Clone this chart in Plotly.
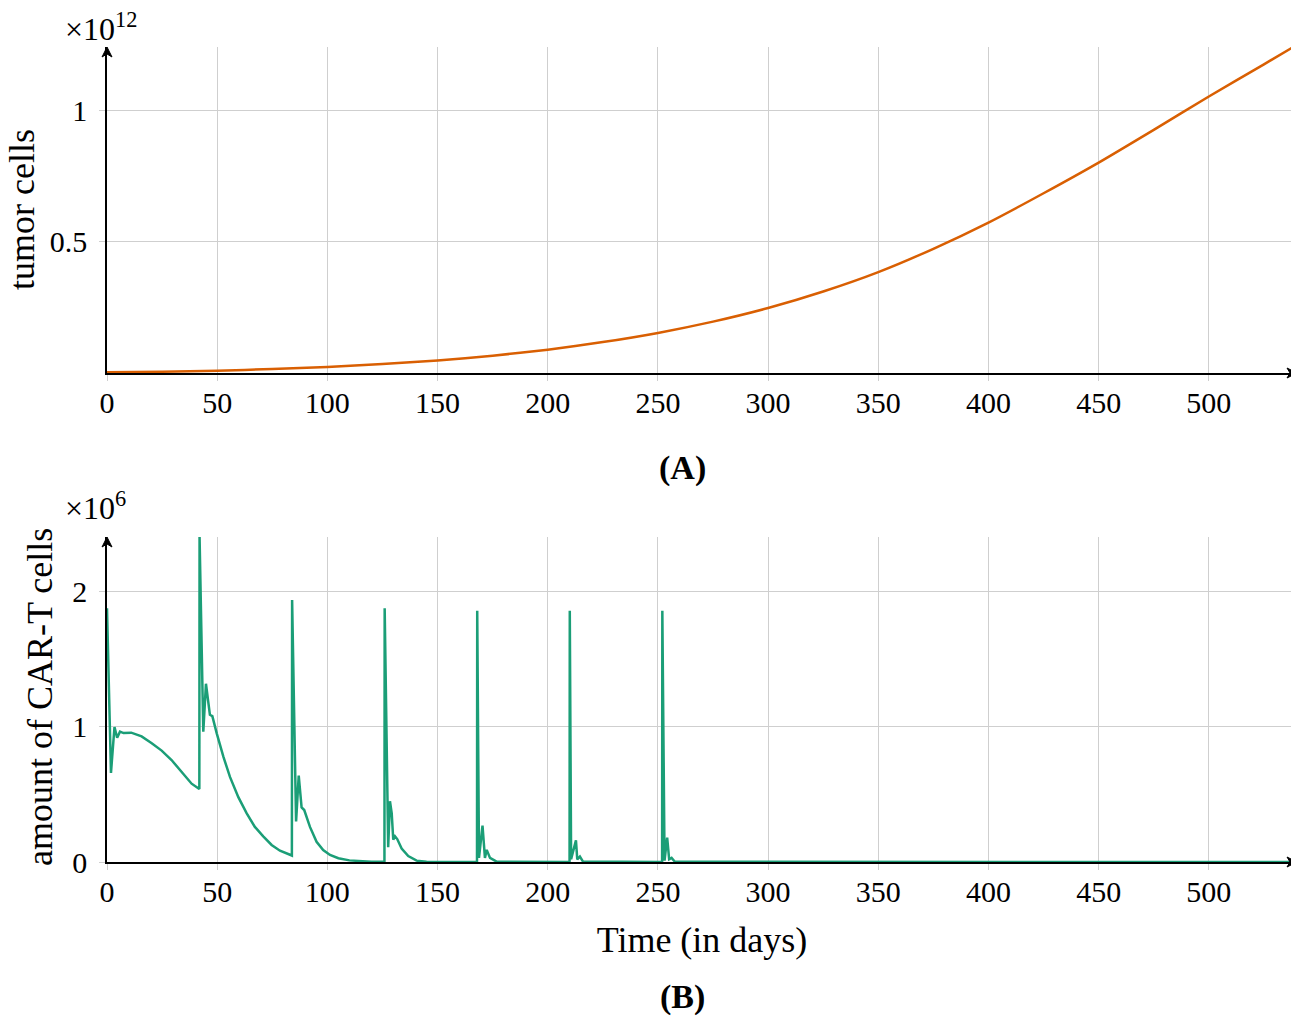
"""Tumor cells and CAR-T cells over time, two stacked panels (A) and (B)."""

import plotly.graph_objects as go

# ---------------------------------------------------------------------
# Data
# ---------------------------------------------------------------------
# (A) tumor cells, in units of 1e12
tumor_days = [0, 25, 50, 75, 100, 125, 150, 175, 200, 225, 250, 275, 300,
              325, 350, 375, 400, 425, 450, 475, 500, 525, 540]
tumor_cells = [0.003, 0.005, 0.009, 0.015, 0.023, 0.034, 0.048, 0.066, 0.089,
               0.118, 0.153, 0.196, 0.248, 0.311, 0.385, 0.474, 0.574, 0.686,
               0.803, 0.928, 1.055, 1.178, 1.252]

# (B) CAR-T cells, in units of 1e6 (doses every 42 days)
cart_days = [
    0, 1.8, 3.4, 4.6, 5.9, 7.5, 11, 15.7, 20.3, 24.8, 29.3, 33.9, 38.4, 41.9,
    42.0, 43.7, 44.9, 46.7, 47.8, 49.8, 52.8, 55.8, 59.6, 63.4, 67.1, 70.9,
    74.7, 78.5, 83.0, 83.9,
    84.0, 85.8, 87.0, 88.3, 89.5, 92.1, 95.1, 98.1, 101.2, 105, 110, 115, 120,
    125.9,
    126.0, 127.6, 128.4, 129.2, 129.9, 130.7, 131.7, 133.7, 136.7, 140.5, 145,
    167.9,
    168.0, 168.8, 170.4, 171.5, 172.3, 173.8, 176.8, 209.9,
    210.0, 210.6, 212.8, 213.4, 214.6, 216.0, 251.9,
    252.0, 253.0, 254.2, 255.1, 256.2, 257.7, 540,
]
cart_cells = [
    1.88, 0.66, 1.0, 0.92, 0.965, 0.955, 0.958, 0.93, 0.88, 0.825, 0.755, 0.67,
    0.58, 0.54,
    2.41, 0.965, 1.32, 1.09, 1.08, 0.953, 0.78, 0.63, 0.48, 0.36, 0.26, 0.19,
    0.126, 0.084, 0.052, 0.048,
    1.94, 0.30, 0.64, 0.405, 0.385, 0.26, 0.15, 0.089, 0.052, 0.028, 0.012,
    0.005, 0.002, 0.001,
    1.88, 0.11, 0.45, 0.36, 0.165, 0.19, 0.17, 0.10, 0.044, 0.01, 0.002, 0.0,
    1.86, 0.03, 0.27, 0.03, 0.09, 0.03, 0.003, 0.0,
    1.86, 0.02, 0.16, 0.02, 0.04, 0.003, 0.0,
    1.86, 0.01, 0.18, 0.02, 0.03, 0.002, 0.0,
]

x_ticks = [0, 50, 100, 150, 200, 250, 300, 350, 400, 450, 500]
tumor_ticks = [0.5, 1]
cart_ticks = [0, 1, 2]

X_MAX = 540
TUMOR_MAX = 1.244
CART_MAX = 2.407

# ---------------------------------------------------------------------
# Style
# ---------------------------------------------------------------------
OFF = 8                      # page body margin the browser adds
W, H = 1299 - OFF, 1023 - OFF
FONT = "Liberation Serif, DejaVu Serif, serif"
FS = 30
TFS = 36
GRID = "#cfcfcf"
TUMOR_COLOR = "#d95f02"
CART_COLOR = "#1b9e77"
LEFT = 107 - OFF
PLOT_W = W - LEFT - 2


def py(px):
    """screen row (reference pixels) -> paper fraction (margins t=b=0)."""
    return 1 - (px - OFF) / H


def px_(x):
    """screen column (reference pixels) -> paper fraction of plot width."""
    return (x - 107) / PLOT_W


fig = go.Figure()

fig.add_trace(go.Scatter(
    x=tumor_days, y=tumor_cells, mode="lines",
    line=dict(color=TUMOR_COLOR, width=2.5, shape="spline", smoothing=0.6),
    xaxis="x", yaxis="y", showlegend=False,
))
fig.add_trace(go.Scatter(
    x=cart_days, y=cart_cells, mode="lines",
    line=dict(color=CART_COLOR, width=2.5),
    xaxis="x2", yaxis="y2", showlegend=False,
))

axis_common = dict(
    showline=True, linecolor="black", linewidth=1.5,
    showgrid=True, gridcolor=GRID, gridwidth=1,
    zeroline=False,
    ticks="outside", ticklen=6, tickcolor=GRID, tickwidth=1,
    tickfont=dict(family=FONT, size=FS, color="black"),
    automargin=False,
)
x_common = dict(axis_common, ticklabelstandoff=-4)
y_common = dict(axis_common, ticklabelstandoff=6)

fig.update_layout(
    width=W, height=H,
    margin=dict(l=LEFT, r=2, t=0, b=0),
    paper_bgcolor="white", plot_bgcolor="white",
    font=dict(family=FONT, size=FS, color="black"),
    xaxis=dict(
        domain=[0, 1], range=[0, X_MAX], tickvals=x_ticks, anchor="y",
        **x_common,
    ),
    yaxis=dict(
        domain=[py(373), py(47)], range=[0, TUMOR_MAX], tickvals=tumor_ticks,
        ticktext=["0.5", "1"], anchor="x",
        **y_common,
    ),
    xaxis2=dict(
        domain=[0, 1], range=[0, X_MAX], tickvals=x_ticks, anchor="y2",
        title=dict(text="Time (in days)", standoff=20,
                   font=dict(family=FONT, size=TFS)),
        **x_common,
    ),
    yaxis2=dict(
        domain=[py(862), py(537)], range=[0, CART_MAX], tickvals=cart_ticks,
        anchor="x2",
        **y_common,
    ),
)

# y axis titles, placed like the reference
fig.add_annotation(text="tumor cells", textangle=-90, xref="paper",
                   yref="paper", x=px_(22), y=py(210), xanchor="center",
                   yanchor="middle", showarrow=False,
                   font=dict(family=FONT, size=TFS))
fig.add_annotation(text="amount of CAR-T cells", textangle=-90, xref="paper",
                   yref="paper", x=px_(40), y=py(697), xanchor="center",
                   yanchor="middle", showarrow=False,
                   font=dict(family=FONT, size=TFS))

# arrow heads at the ends of the axis lines (paper refs, so they are not clipped)
head = dict(type="path", xref="paper", yref="paper",
            xsizemode="pixel", ysizemode="pixel",
            fillcolor="black", line=dict(color="black", width=1), layer="above")
for y_bottom, y_top in [(373, 47), (862, 537)]:
    fig.add_shape(xanchor=1, yanchor=py(y_bottom),
                  path="M -10 -5 L 0 0 L -10 5 L -7 0 Z", **head)
    fig.add_shape(xanchor=0, yanchor=py(y_top),
                  path="M -5 -10 L 0 0 L 5 -10 L 0 -7 Z", **head)

# multipliers and panel captions
fig.add_annotation(text="×10<sup>12</sup>", xref="paper", yref="paper",
                   x=px_(63), y=py(5), xanchor="left", yanchor="top",
                   showarrow=False, font=dict(family=FONT, size=32))
fig.add_annotation(text="×10<sup>6</sup>", xref="paper", yref="paper",
                   x=px_(63), y=py(484), xanchor="left", yanchor="top",
                   showarrow=False, font=dict(family=FONT, size=32))
fig.add_annotation(text="<b>(A)</b>", xref="paper", yref="paper",
                   x=px_(682), y=py(468), xanchor="center",
                   yanchor="middle", showarrow=False,
                   font=dict(family=FONT, size=34))
fig.add_annotation(text="<b>(B)</b>", xref="paper", yref="paper",
                   x=px_(682), y=py(997), xanchor="center",
                   yanchor="middle", showarrow=False,
                   font=dict(family=FONT, size=34))

fig.write_html("out.html")
